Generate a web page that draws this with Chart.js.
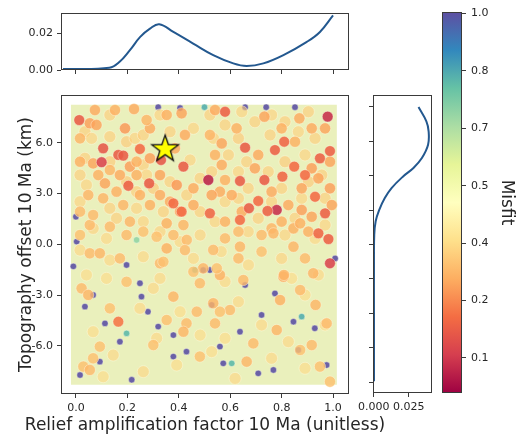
<!DOCTYPE html>
<html>
<head>
<meta charset="utf-8">
<script src="https://cdn.jsdelivr.net/npm/chart.js@4/dist/chart.umd.min.js"></script>
<style>
  html, body { margin: 0; padding: 0; background: #fff; overflow: hidden; }
  #wrap { position: relative; width: 516px; height: 439px; }
  canvas { position: absolute; }
</style>
</head>
<body>
<div id="wrap">
  <canvas id="mainPlot" width="516" height="439" style="left:0;top:0"></canvas>
  <canvas id="topPlot" width="360" height="90" style="left:0;top:0"></canvas>
  <canvas id="rightPlot" width="100" height="439" style="left:340px;top:0"></canvas>
  <canvas id="cbarPlot" width="86" height="439" style="left:430px;top:0"></canvas>
</div>
<script>
// ---------------- data ----------------
// axis ranges and ticks
const mainXRange = [-0.058, 1.062];
const mainYRange = [-8.84, 8.82];
const mainXTicks = [0, 0.2, 0.4, 0.6, 0.8, 1.0];
const mainYTicks = [-6, -3, 0, 3, 6];
const topYRange = [0, 0.031];
const topYTicks = [0, 0.02];
const rightXRange = [-0.0005, 0.0415];
const rightXTicks = [0, 0.025];
const rightYRange = [-8.63, 8.69];
const rightYTicks = [-8, -6, -4, -2, 0, 2, 4, 6, 8];
const cbarRange = [0.008, 1.004];
const cbarTickValues = [0.1, 0.25, 0.4, 0.55, 0.7, 0.85, 1.0];
const cbarTickLabels = ['0.1', '0.2', '0.4', '0.5', '0.7', '0.8', '1.0'];

// sampled parameter space: extent of the explored region (relief factor, topo offset)
const sampledX = [-0.02, 1.015];
const sampledTop = 8.25;
const sampledBottom = -8.3;

// models as [relief factor, topography offset (km), misfit]
const lowMisfitModels = [
  [0.013, 7.34, 0.17], [0.106, 5.67, 0.16], [0.100, 4.85, 0.12], [0.165, 5.28, 0.17],
  [0.184, 5.24, 0.17], [0.204, 3.46, 0.18], [0.285, 3.60, 0.17], [0.331, 4.98, 0.16],
  [0.418, 4.59, 0.17], [0.249, 5.63, 0.20], [0.515, 3.80, 0.06], [0.979, 7.54, 0.08],
  [0.781, 2.03, 0.08], [0.580, 7.83, 0.18], [0.658, 5.71, 0.17], [0.774, 5.57, 0.18],
  [0.810, 6.06, 0.19], [0.638, 3.74, 0.17], [0.733, 3.80, 0.17], [0.803, 4.00, 0.19],
  [0.849, 4.59, 0.20], [0.949, 5.08, 0.18], [0.988, 5.51, 0.18], [0.709, 2.56, 0.20],
  [0.673, 2.13, 0.17], [0.745, 1.97, 0.18], [0.930, 2.81, 0.20], [0.969, 1.83, 0.18],
  [0.943, 0.65, 0.19], [0.982, 0.31, 0.18], [0.891, 4.09, 0.20], [0.988, -1.12, 0.12],
  [0.521, 1.83, 0.19], [0.379, 2.42, 0.20], [0.411, 1.93, 0.20], [0.638, 1.44, 0.20],
  [0.165, -4.57, 0.22]
];
const midMisfitModels = [
  [0.074, 7.93, 0.30], [0.152, 7.93, 0.31], [0.226, 7.99, 0.30], [0.054, 7.15, 0.28],
  [0.080, 7.05, 0.29], [0.191, 6.85, 0.27], [0.288, 6.85, 0.30], [0.411, 7.74, 0.29],
  [0.424, 6.46, 0.30], [0.016, 4.88, 0.31], [0.067, 4.78, 0.29], [0.210, 4.59, 0.28],
  [0.132, 4.39, 0.32], [0.087, 4.09, 0.31], [0.171, 4.09, 0.30], [0.236, 4.09, 0.31],
  [0.113, 3.60, 0.29], [0.158, 3.11, 0.31], [0.048, 2.91, 0.32], [0.327, 4.09, 0.29],
  [0.392, 3.50, 0.27], [0.327, 2.91, 0.30], [0.249, 2.91, 0.31], [0.106, 2.72, 0.32],
  [0.016, 1.93, 0.33], [0.054, 1.14, 0.33], [0.210, 1.34, 0.32], [0.405, 1.93, 0.29],
  [0.366, 2.52, 0.30], [0.457, 2.32, 0.30], [0.418, 1.14, 0.32], [0.353, 1.24, 0.31],
  [0.197, 0.55, 0.33], [0.379, 0.55, 0.33], [0.016, 0.55, 0.34], [0.288, 5.08, 0.28],
  [0.385, 5.67, 0.30], [0.275, 7.34, 0.32], [0.353, 7.64, 0.31], [0.016, 6.26, 0.32],
  [0.236, 4.88, 0.31], [0.184, 2.32, 0.32], [0.288, 2.32, 0.31], [0.067, 1.73, 0.33],
  [0.132, 1.04, 0.33], [0.262, 0.75, 0.34], [0.457, 3.31, 0.30],
  [0.541, 7.93, 0.30], [0.733, 7.54, 0.29], [0.869, 7.44, 0.30], [0.969, 6.85, 0.29],
  [0.567, 5.96, 0.29], [0.709, 5.28, 0.30], [0.852, 6.06, 0.31], [0.541, 5.28, 0.31],
  [0.567, 4.69, 0.30], [0.696, 4.49, 0.29], [0.917, 4.49, 0.28], [0.988, 4.88, 0.29],
  [0.580, 3.80, 0.31], [0.560, 3.11, 0.30], [0.528, 2.91, 0.29], [0.606, 2.91, 0.30],
  [0.645, 1.93, 0.30], [0.580, 1.34, 0.31], [0.826, 2.32, 0.30], [0.878, 2.03, 0.28],
  [0.800, 1.34, 0.31], [0.846, 0.94, 0.31], [0.917, 1.63, 0.29], [0.995, 2.32, 0.29],
  [0.904, 0.75, 0.31], [0.722, 0.55, 0.33], [0.580, 0.35, 0.33], [0.625, 6.85, 0.31],
  [0.917, 6.85, 0.30], [0.800, 6.85, 0.31], [0.521, 6.46, 0.32], [0.943, 3.90, 0.29],
  [0.988, 3.31, 0.28], [0.878, 3.31, 0.29], [0.761, 3.11, 0.30], [0.761, 0.94, 0.32],
  [0.632, 0.75, 0.33],
  [0.054, -0.53, 0.33], [0.093, -0.53, 0.32], [0.327, -1.12, 0.33], [0.495, -1.42, 0.32],
  [0.560, -1.81, 0.31], [0.534, -0.33, 0.33], [0.638, -0.14, 0.32], [0.846, -0.14, 0.32],
  [0.807, -1.91, 0.30], [0.923, -1.71, 0.32], [0.431, 0.26, 0.33], [0.314, 0.45, 0.34],
  [0.768, 0.65, 0.32], [0.872, 1.24, 0.31],
  [0.379, -3.09, 0.32], [0.482, -2.30, 0.33], [0.534, -3.48, 0.32], [0.651, -2.11, 0.33],
  [0.794, -3.29, 0.31], [0.872, -2.70, 0.33], [0.599, -3.88, 0.33], [0.781, -5.06, 0.32],
  [0.690, -5.85, 0.33], [0.430, -4.67, 0.33], [0.482, -6.63, 0.34], [0.872, -6.24, 0.34],
  [0.949, -7.22, 0.34], [0.975, -4.67, 0.33], [0.029, -7.22, 0.34], [0.093, -6.04, 0.34],
  [0.171, -0.83, 0.33], [0.353, -0.24, 0.31], [0.424, -0.34, 0.33], [0.340, -1.03, 0.34],
  [0.022, -2.60, 0.33], [0.048, -2.99, 0.32], [0.132, -3.78, 0.34], [0.470, -3.98, 0.33],
  [0.418, -5.16, 0.32], [0.353, -4.47, 0.34], [0.067, -6.73, 0.34], [0.054, -7.42, 0.33],
  [0.197, -2.21, 0.34], [0.457, -1.62, 0.34], [0.301, -5.95, 0.34],
  [0.632, -0.83, 0.33], [0.809, -1.81, 0.32], [0.932, -3.58, 0.32], [0.917, -5.95, 0.33],
  [0.664, -6.93, 0.32], [0.560, -3.98, 0.34], [0.541, -4.67, 0.33], [0.722, -0.43, 0.34],
  [0.891, -0.83, 0.33], [0.548, -1.42, 0.34], [0.988, -8.11, 0.34]
];
const paleOrangeModels = [
  [0.035, 6.65, 0.36], [0.061, 6.26, 0.37], [0.132, 6.36, 0.36], [0.197, 6.06, 0.35],
  [0.230, 6.26, 0.37], [0.262, 6.46, 0.36], [0.366, 6.65, 0.36], [0.457, 6.85, 0.37],
  [0.132, 7.64, 0.36], [0.327, 7.64, 0.37], [0.035, 5.08, 0.36], [0.132, 4.88, 0.35],
  [0.262, 4.69, 0.36], [0.444, 4.98, 0.37], [0.016, 4.09, 0.36], [0.197, 3.70, 0.35],
  [0.275, 4.09, 0.37], [0.366, 3.70, 0.36], [0.483, 3.90, 0.36], [0.041, 3.50, 0.37],
  [0.236, 3.11, 0.36], [0.301, 3.31, 0.35], [0.431, 2.91, 0.36], [0.016, 2.52, 0.37],
  [0.132, 2.13, 0.36], [0.236, 2.13, 0.37], [0.340, 1.93, 0.36], [0.483, 1.93, 0.36],
  [0.067, 0.94, 0.37], [0.158, 1.54, 0.36], [0.262, 1.34, 0.37], [0.327, 0.75, 0.37],
  [0.483, 0.55, 0.37], [0.119, 0.35, 0.38], [0.405, 0.16, 0.38],
  [0.521, 7.64, 0.36], [0.580, 7.05, 0.36], [0.645, 7.83, 0.37], [0.696, 7.24, 0.36],
  [0.761, 7.64, 0.37], [0.813, 7.24, 0.36], [0.904, 7.83, 0.36], [0.930, 6.26, 0.36],
  [0.865, 6.65, 0.37], [0.755, 6.46, 0.36], [0.632, 6.26, 0.35], [0.535, 6.26, 0.37],
  [0.593, 5.28, 0.36], [0.664, 4.88, 0.36], [0.813, 4.88, 0.35], [0.891, 5.28, 0.37],
  [0.956, 4.09, 0.36], [0.528, 4.29, 0.36], [0.632, 4.29, 0.37], [0.748, 4.29, 0.36],
  [0.670, 3.31, 0.36], [0.800, 3.31, 0.36], [0.904, 3.70, 0.35], [0.580, 2.52, 0.37],
  [0.632, 2.72, 0.36], [0.761, 2.52, 0.36], [0.878, 2.72, 0.37], [0.969, 2.72, 0.36],
  [0.541, 1.34, 0.37], [0.709, 1.54, 0.36], [0.852, 1.54, 0.36], [0.969, 1.14, 0.37],
  [0.670, 0.75, 0.37], [0.813, 0.55, 0.37], [0.930, 0.35, 0.38],
  [0.016, -0.34, 0.38], [0.132, -0.93, 0.38], [0.262, -0.73, 0.38], [0.457, -0.83, 0.38],
  [0.041, -1.81, 0.39], [0.327, -2.01, 0.38], [0.565, -0.43, 0.38], [0.800, -0.83, 0.37],
  [0.671, -1.22, 0.38], [0.943, -1.81, 0.38], [0.839, -2.01, 0.39], [0.580, -2.20, 0.38],
  [0.119, -2.01, 0.39], [0.301, -2.60, 0.38], [0.405, -3.98, 0.39], [0.249, -3.78, 0.38],
  [0.067, -5.16, 0.39], [0.314, -5.55, 0.38], [0.483, -5.36, 0.39], [0.145, -6.54, 0.38],
  [0.392, -7.13, 0.39], [0.262, -7.52, 0.38], [0.106, -7.82, 0.39], [0.632, -3.39, 0.38],
  [0.891, -2.99, 0.39], [0.722, -4.76, 0.38], [0.580, -5.55, 0.39], [0.826, -5.75, 0.38],
  [0.969, -4.76, 0.39], [0.761, -6.73, 0.38], [0.891, -7.32, 0.39], [0.619, -7.92, 0.38],
  [0.528, -6.34, 0.39]
];
const highMisfitModels = [
  [0.035, -3.68, 1.00], [0.113, -4.67, 1.00], [0.217, -8.00, 1.00], [0.249, -2.30, 1.00],
  [0.280, -3.98, 1.00], [0.067, -2.99, 1.00], [0.171, -5.75, 1.00], [0.093, -6.93, 1.00],
  [0.016, -7.72, 1.00], [0.197, -1.22, 1.00], [0.320, -4.86, 1.00], [0.379, -5.36, 1.00],
  [0.430, -6.34, 1.00], [0.255, -3.09, 1.00], [0.521, -1.52, 1.00], [0.658, -2.40, 1.00],
  [0.774, -2.90, 1.00], [0.528, -3.58, 1.00], [0.846, -4.57, 1.00], [0.638, -5.16, 1.00],
  [0.865, -6.24, 1.00], [0.573, -7.03, 1.00], [0.709, -7.62, 1.00], [0.768, -7.42, 1.00],
  [0.975, -7.13, 1.00], [1.008, -0.83, 1.00], [0.722, -4.17, 1.00], [0.929, -4.96, 1.00],
  [0.320, 8.10, 1.00], [0.405, 8.05, 1.00], [0.658, 8.10, 1.00], [0.852, 8.10, 1.00],
  [0.740, 8.10, 1.00], [0.000, 1.63, 1.00], [0.003, 0.16, 1.00], [-0.010, -1.30, 1.00],
  [0.560, -6.04, 1.00], [0.379, -6.63, 1.00], [0.495, -1.52, 0.98],
  [0.197, -5.26, 0.82], [0.463, -1.52, 0.80], [0.878, -4.27, 0.84], [0.606, -7.03, 0.82],
  [0.236, 0.26, 0.74], [0.500, 8.10, 0.84]
];
// best-fitting model
const bestModel = [0.347, 5.67];

// marginal densities
const reliefDensityX = [-0.05, 0.13, 0.17, 0.21, 0.25, 0.288, 0.324, 0.379, 0.456, 0.534, 0.612, 0.664, 0.729, 0.807, 0.898, 0.949, 1.0];
const reliefDensityY = [0.0005, 0.0012, 0.0045, 0.0108, 0.018, 0.0225, 0.0249, 0.0207, 0.0144, 0.0081, 0.0036, 0.0022, 0.0036, 0.0081, 0.0153, 0.0207, 0.0297];
const offsetDensityY = [-7.95, -4.0, -1.0, 0.57, 1.35, 1.99, 2.70, 3.28, 3.97, 4.45, 5.03, 5.80, 6.58, 7.16, 7.99];
const offsetDensityX = [0.0002, 0.0002, 0.0002, 0.0004, 0.0014, 0.0038, 0.0079, 0.0127, 0.0211, 0.0283, 0.0343, 0.0387, 0.0391, 0.0375, 0.0319];

// ---------------- styling helpers ----------------
const FONT = "'DejaVu Sans', sans-serif";
const TXT = '#262626';
const AX = '#3a3a3a';
const LINE = '#23588f';
Chart.defaults.font.family = FONT;
Chart.defaults.color = TXT;
Chart.defaults.animation = false;

const SPECTRAL = ['#9e0142', '#d53e4f', '#f46d43', '#fdae61', '#fee08b', '#ffffbf',
                  '#e6f598', '#abdda4', '#66c2a5', '#3288bd', '#5e4fa2'];
const hexRgb = h => [1, 3, 5].map(i => parseInt(h.substr(i, 2), 16));
function spectral(t) {
  t = Math.min(1, Math.max(0, t));
  const f = t * 10, i = Math.min(9, Math.floor(f)), u = f - i;
  const a = hexRgb(SPECTRAL[i]), b = hexRgb(SPECTRAL[i + 1]);
  return a.map((v, k) => Math.round(v + (b[k] - v) * u));
}
function misfitColor(m, alpha) {
  const c = spectral((m - cbarRange[0]) / (cbarRange[1] - cbarRange[0]));
  return `rgba(${c[0]},${c[1]},${c[2]},${alpha})`;
}

// frame around every plotting area
const framePlugin = {
  id: 'frame',
  afterDraw(chart) {
    const a = chart.chartArea, ctx = chart.ctx;
    const l = Math.round(a.left) + 0.5, t = Math.round(a.top) + 0.5;
    const r = Math.round(a.right) - 0.5, b = Math.round(a.bottom) - 0.5;
    ctx.save();
    ctx.strokeStyle = AX;
    ctx.lineWidth = 1;
    ctx.strokeRect(l, t, r - l, b - t);
    ctx.restore();
  }
};

// x-axis caption of the main panel, centred under the plotting area at natural width
const xCaptionPlugin = {
  id: 'xCaption',
  afterDraw(chart, args, opts) {
    const a = chart.chartArea, ctx = chart.ctx;
    ctx.save();
    ctx.font = `17px ${FONT}`;
    ctx.fillStyle = TXT;
    ctx.textAlign = 'center';
    ctx.textBaseline = 'middle';
    ctx.fillText(opts.text, (a.left + a.right) / 2, a.bottom + opts.offset);
    ctx.restore();
  }
};

function linearAxis(range, ticks, fmt, showLabels, fitSize, title, horizontal, position) {
  const ax = {
    type: 'linear',
    position: position,
    min: range[0],
    max: range[1],
    afterBuildTicks: s => { s.ticks = ticks.map(v => ({ value: v })); },
    afterFit: s => { if (horizontal) s.height = fitSize; else s.width = fitSize; },
    ticks: {
      display: showLabels,
      autoSkip: false, maxRotation: 0, minRotation: 0,
      color: TXT, font: { size: 11 }, padding: 4,
      callback: fmt
    },
    grid: { display: true, drawOnChartArea: false, drawTicks: true, tickLength: 4, color: AX, lineWidth: 1 },
    border: { display: false }
  };
  if (title) ax.title = title;
  return ax;
}

const commonPlugins = { legend: { display: false }, tooltip: { enabled: false } };

// ---------------- main scatter ----------------
const toPts = arr => arr.map(p => ({ x: p[0], y: p[1], m: p[2] }));

function starImage() {
  const c = document.createElement('canvas');
  c.width = 32; c.height = 32;
  const g = c.getContext('2d');
  const cx = 16, cy = 16.8, R = 14, r = 5.6;
  g.beginPath();
  for (let i = 0; i < 10; i++) {
    const ang = -Math.PI / 2 + i * Math.PI / 5;
    const rad = i % 2 === 0 ? R : r;
    const px = cx + rad * Math.cos(ang), py = cy + rad * Math.sin(ang);
    if (i === 0) g.moveTo(px, py); else g.lineTo(px, py);
  }
  g.closePath();
  g.fillStyle = '#ffff00';
  g.fill();
  g.lineWidth = 1.3;
  g.strokeStyle = '#111';
  g.stroke();
  return c;
}

const modelDataset = (arr, radius, alpha, order) => ({
  data: toPts(arr),
  order: order,
  pointRadius: radius,
  pointHoverRadius: radius,
  pointBackgroundColor: ctx => misfitColor(ctx.raw.m, alpha),
  pointBorderColor: 'rgba(255,255,235,0.5)',
  pointBorderWidth: 0.8,
  showLine: false
});

new Chart(document.getElementById('mainPlot'), {
  type: 'scatter',
  data: {
    datasets: [
      { // upper edge of the sampled region, filled down to the lower edge
        data: [{ x: sampledX[0], y: sampledTop }, { x: sampledX[1], y: sampledTop }],
        showLine: true, borderWidth: 0, pointRadius: 0, fill: '+1',
        backgroundColor: '#eaf0bc', order: 10
      },
      {
        data: [{ x: sampledX[0], y: sampledBottom }, { x: sampledX[1], y: sampledBottom }],
        showLine: true, borderWidth: 0, pointRadius: 0, fill: false, order: 9
      },
      modelDataset(highMisfitModels, 3.2, 0.9, 6),
      modelDataset(paleOrangeModels, 6, 0.6, 5),
      modelDataset(midMisfitModels, 5.6, 0.82, 4),
      modelDataset(lowMisfitModels, 5.4, 0.88, 3),
      {
        data: [{ x: bestModel[0], y: bestModel[1] }],
        pointStyle: starImage(), pointRadius: 14, order: 1
      }
    ]
  },
  options: {
    responsive: false,
    events: [],
    layout: { padding: { left: 0, top: 95, right: 167, bottom: 0 } },
    plugins: Object.assign({
      xCaption: { text: 'Relief amplification factor 10 Ma (unitless)', offset: 32 }
    }, commonPlugins),
    scales: {
      x: linearAxis(mainXRange, mainXTicks, v => v.toFixed(1), true, 45, null, true, 'bottom'),
      y: linearAxis(mainYRange, mainYTicks, v => v.toFixed(1), true, 61,
        { display: true, text: 'Topography offset 10 Ma (km)', color: TXT,
          font: { size: 17 }, padding: { top: 16, bottom: 0 } }, false, 'left')
    }
  },
  plugins: [framePlugin, xCaptionPlugin]
});

// ---------------- top marginal density ----------------
new Chart(document.getElementById('topPlot'), {
  type: 'scatter',
  data: {
    datasets: [{
      data: reliefDensityX.map((x, i) => ({ x: x, y: reliefDensityY[i] })),
      showLine: true, borderColor: LINE, borderWidth: 2, pointRadius: 0, tension: 0.4
    }]
  },
  options: {
    responsive: false,
    events: [],
    layout: { padding: { left: 0, top: 13, right: 11, bottom: 0 } },
    plugins: commonPlugins,
    scales: {
      x: linearAxis(mainXRange, mainXTicks, v => '', false, 20, null, true, 'bottom'),
      y: linearAxis(topYRange, topYTicks, v => v.toFixed(2), true, 61, null, false, 'left')
    }
  },
  plugins: [framePlugin]
});

// ---------------- right marginal density ----------------
new Chart(document.getElementById('rightPlot'), {
  type: 'scatter',
  data: {
    datasets: [{
      data: offsetDensityY.map((y, i) => ({ x: offsetDensityX[i], y: y })),
      showLine: true, borderColor: LINE, borderWidth: 2, pointRadius: 0, tension: 0.4
    }]
  },
  options: {
    responsive: false,
    events: [],
    layout: { padding: { left: 0, top: 95, right: 8, bottom: 0 } },
    plugins: commonPlugins,
    scales: {
      x: linearAxis(rightXRange, rightXTicks, v => v.toFixed(3), true, 46, null, true, 'bottom'),
      y: linearAxis(rightYRange, rightYTicks, v => '', false, 33, null, false, 'left')
    }
  },
  plugins: [framePlugin]
});

// ---------------- colour bar ----------------
new Chart(document.getElementById('cbarPlot'), {
  type: 'bar',
  data: {
    labels: ['Misfit'],
    datasets: [{
      data: [[cbarRange[0], cbarRange[1]]],
      barPercentage: 1, categoryPercentage: 1, borderWidth: 0, borderSkipped: false,
      backgroundColor: ctx => {
        const chart = ctx.chart, ys = chart.scales.y;
        if (!ys || !chart.chartArea) return '#888';
        const y0 = ys.getPixelForValue(cbarRange[0]), y1 = ys.getPixelForValue(cbarRange[1]);
        const g = chart.ctx.createLinearGradient(0, y0, 0, y1);
        SPECTRAL.forEach((c, i) => g.addColorStop(i / 10, c));
        return g;
      }
    }]
  },
  options: {
    responsive: false,
    events: [],
    layout: { padding: { left: 12, top: 12, right: 0, bottom: 46 } },
    plugins: commonPlugins,
    scales: {
      x: { display: false },
      y: {
        type: 'linear', position: 'right', min: cbarRange[0], max: cbarRange[1],
        afterBuildTicks: s => { s.ticks = cbarTickValues.map(v => ({ value: v })); },
        afterFit: s => { s.width = 54; },
        ticks: {
          autoSkip: false, color: TXT, font: { size: 11 }, padding: 5,
          callback: (v) => cbarTickLabels[cbarTickValues.indexOf(v)]
        },
        grid: { display: true, drawOnChartArea: false, drawTicks: true, tickLength: 4, color: AX },
        border: { display: false },
        title: { display: true, text: 'Misfit', color: TXT, font: { size: 17, lineHeight: 1 }, padding: { top: 1, bottom: 0 } }
      }
    }
  },
  plugins: [framePlugin]
});
</script>
</body>
</html>
